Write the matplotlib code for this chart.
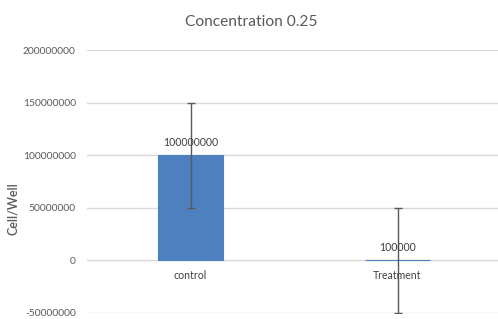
import matplotlib
matplotlib.use("Agg")
import matplotlib.pyplot as plt

categories = ["control", "Treatment"]
values = [100000000, 100000]
errors = [50000000, 50000000]
yticks = [-50000000, 0, 50000000, 100000000, 150000000, 200000000]

plt.rcParams['font.family'] = ['Lato', 'DejaVu Sans']
W, H = 498, 319
fig = plt.figure(figsize=(W/100, H/100), dpi=100)
ax = fig.add_axes([87/W, 6/H, 414/W, 263/H])

x = list(range(len(categories)))
ax.bar(x, values, width=0.314, color="#4E7FBE", edgecolor="#4E7FBE",
       linewidth=0.8, zorder=3)
ax.errorbar(x, values, yerr=errors, fmt="none", ecolor="#5a5a5a",
            elinewidth=1, capsize=3, capthick=1, zorder=4)

ax.set_xlim(-0.5, 1.5)
ax.set_ylim(-50000000, 200000000)
ax.set_yticks(yticks)
ax.set_yticklabels([str(v) for v in yticks], fontsize=7.4, color="#595959")
ax.yaxis.grid(True, color="#d9d9d9", linewidth=1, zorder=0)
ax.tick_params(axis="y", length=0, pad=8)
ax.set_xticks([])
for s in ax.spines.values():
    s.set_visible(False)

for xi, v, c in zip(x, values, categories):
    ax.annotate(str(v), (xi, v), xytext=(0, 13), textcoords="offset pixels",
                ha="center", va="center", fontsize=7.6, color="#404040", zorder=5)
    ax.annotate(c, (xi, 0), xytext=(0, -15), textcoords="offset pixels",
                ha="center", va="center", fontsize=7.6, color="#404040", zorder=5)

fig.text(13/W, 1 - 209/H, "Cell/Well", rotation=90, ha="center", va="center",
         fontsize=9, color="#595959", fontweight="semibold")
fig.text(251/W, 1 - 22/H, "Concentration 0.25", ha="center", va="center",
         fontsize=11.2, color="#595959")

fig.savefig("out.png", dpi=100)
